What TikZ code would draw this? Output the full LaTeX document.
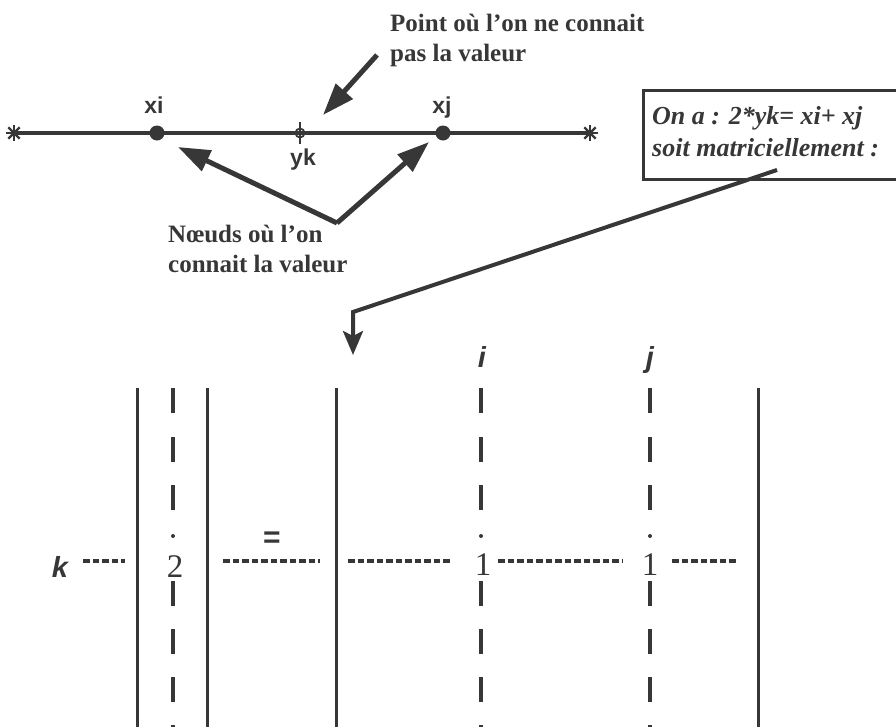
\documentclass[tikz,border=0pt]{standalone}
\usepackage{fontspec}
\setmainfont{Liberation Serif}
\setsansfont{Liberation Sans}
\usetikzlibrary{arrows.meta}
\definecolor{ink}{RGB}{55,55,55}

\begin{document}
\begin{tikzpicture}[x=1pt, y=-1pt, >=Triangle, line cap=butt,
  axis/.style={ink, line width=4pt},
  pointer/.style={ink, line width=5pt, -{Triangle[length=32pt,width=22pt]}},
  bendarrow/.style={ink, line width=4pt, line join=miter, -{Stealth[length=24pt,width=20pt,inset=5pt]}},
  bar/.style={ink, line width=3pt},
  rowdash/.style={ink, line width=3.2pt, dash pattern=on 6.5pt off 3pt},
  coldash/.style={ink, line width=3.5pt},
  endstar/.style={ink, line width=2.4pt},
  lab/.style={font=\sffamily\bfseries\fontsize{23}{26}\selectfont, text=ink, inner sep=0pt},
  note/.style={font=\bfseries\fontsize{25}{30}\selectfont, text=ink, inner sep=0pt, align=left},
  idx/.style={font=\sffamily\bfseries\itshape\fontsize{29}{30}\selectfont, text=ink, inner sep=0pt},
  entry/.style={font=\fontsize{33}{34}\selectfont, text=ink, inner sep=0pt}]

\useasboundingbox (0,0) rectangle (896,726);

% the 1D mesh
\coordinate (lend) at (14,133);
\coordinate (rend) at (590,133);
\coordinate (xi) at (157,133);
\coordinate (yk) at (300,133);
\coordinate (xj) at (443,133);
\draw[axis] (lend) -- (rend);
\foreach \a in {0,45,90,135} {
  \draw[endstar] (lend) ++(\a:8) -- ++(\a+180:16);
  \draw[endstar] (rend) ++(\a:8) -- ++(\a+180:16);
}
\draw[endstar] (yk) ++(0,-11) -- ++(0,22);
\draw[ink, line width=1.8pt] (yk) circle (4.5);
\fill[ink] (xi) circle (7.5);
\fill[ink] (xj) circle (7.5);
\node[lab, anchor=base] (xilab) at (154,113) {xi};
\node[lab, anchor=base] (xjlab) at (442,113) {xj};
\node[lab, anchor=base] (yklab) at (303,165) {yk};

% unknown point
\node[note, anchor=north west] (unknown) at (390,14) {Point où l'on ne connait\\pas la valeur};
\coordinate (ptstart) at (377,55);
\coordinate (pttip) at (323,115);
\draw[pointer] (ptstart) -- (pttip);

% known nodes
\node[note, anchor=north west] (known) at (168,225) {Nœuds où l'on\\connait la valeur};
\coordinate (vertex) at (337,223);
\coordinate (xitip) at (178,147);
\coordinate (xjtip) at (429,142);
\draw[pointer, line join=miter] (vertex) -- (xitip);
\draw[pointer] (vertex) -- (xjtip);

% the relation
\draw[ink, line width=3pt] (896,90) -| (643,179) -- (896,179);
\node[note, font=\bfseries\itshape\fontsize{26}{32}\selectfont, anchor=north west] (relation) at (652,106) {On a : 2*yk= xi+ xj\\soit matriciellement :};
\coordinate (relstart) at (777,170);
\coordinate (bendpt) at (353,312);
\coordinate (mattop) at (353,355);
\draw[bendarrow] (relstart) -- (bendpt) -- (mattop);

% the matrix form
\foreach \x in {137,207,336,758}
  \draw[bar] (\x,388) -- (\x,730);
\foreach \x in {173,481,650} {
  \foreach \y in {388,437,485,581,629,677,725}
    \draw[coldash] (\x,\y) -- (\x,\y+25);
  \fill[ink] (\x,536) circle (2);
}
\node[idx, anchor=base] (ilab) at (482,367) {i};
\node[idx, anchor=base] (jlab) at (650,367) {j};
\node[idx, anchor=base] (klab) at (60,577) {k};
\node[entry, anchor=base] (two) at (175,577) {2};
\node[entry, anchor=base] (onei) at (483,575) {1};
\node[entry, anchor=base] (onej) at (650,575) {1};
\node[font=\sffamily\bfseries\fontsize{30}{30}\selectfont, text=ink, inner sep=0pt] (equal) at (272,540) {=};
\draw[rowdash] (83,561) -- (125,561);
\draw[rowdash] (223,561) -- (320,561);
\draw[rowdash] (348,561) -- (452,561);
\draw[rowdash] (498,561) -- (622,561);
\draw[rowdash] (672,561) -- (737,561);

\end{tikzpicture}
\end{document}
